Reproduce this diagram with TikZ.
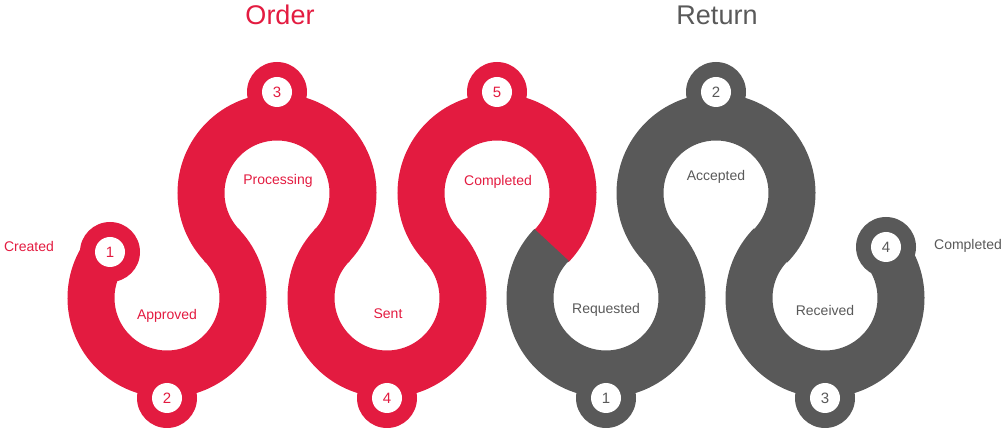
\documentclass[tikz,border=0pt]{standalone}
\usepackage{fontspec}
\setmainfont{Liberation Sans}
\usepackage{xcolor}
\definecolor{ordred}{HTML}{E31B40}
\definecolor{retgray}{HTML}{595959}
\begin{document}
\begin{tikzpicture}[x=1pt,y=1pt,
    band/.style={line width=47pt},
    bump/.style={fill=#1},
    num/.style={circle,fill=white,minimum size=30pt,inner sep=0pt,text=#1,font=\fontsize{15}{15}\selectfont},
    lbl/.style={text=#1,font=\fontsize{14}{16}\selectfont},
    title/.style={text=#1,font=\fontsize{27}{30}\selectfont}]
    \useasboundingbox (0,0) rectangle (1006,428);
    % band
    \draw[band,ordred] (167,130) ++(141:76) arc[start angle=141,end angle=404.7,radius=76];
    \draw[band,ordred] (277,235) ++(225:76) arc[start angle=225,end angle=-44.7,radius=76];
    \draw[band,ordred] (387,130) ++(135.3:76) arc[start angle=135.3,end angle=404.7,radius=76];
    \draw[band,ordred] (497,235) ++(225:76) arc[start angle=225,end angle=-44.3,radius=76];
    \draw[band,retgray] (606,130) ++(135.7:76) arc[start angle=135.7,end angle=404.7,radius=76];
    \draw[band,retgray] (716,235) ++(225:76) arc[start angle=225,end angle=-44.7,radius=76];
    \draw[band,retgray] (825,130) ++(135.3:76) arc[start angle=135.3,end angle=400,radius=76];
    % bumps
    \foreach \x/\y in {110/176,167/30,277/336,387/30,497/336}
        \fill[bump=ordred] (\x,\y) circle (30);
    \foreach \x/\y in {606/30,716/336,825/30,886/181}
        \fill[bump=retgray] (\x,\y) circle (30);
    % numbers
    \node[num=ordred] (o1) at (110,176) {1};
    \node[num=ordred] (o2) at (167,30) {2};
    \node[num=ordred] (o3) at (277,336) {3};
    \node[num=ordred] (o4) at (387,30) {4};
    \node[num=ordred] (o5) at (497,336) {5};
    \node[num=retgray] (r1) at (606,30) {1};
    \node[num=retgray] (r2) at (716,336) {2};
    \node[num=retgray] (r3) at (825,30) {3};
    \node[num=retgray] (r4) at (886,181) {4};
    % labels
    \node[lbl=ordred] (created) at (29,182) {Created};
    \node[lbl=ordred] (approved) at (167,112) {Approved};
    \node[lbl=ordred] (processing) at (278,247) {Processing};
    \node[lbl=ordred] (sent) at (388,114) {Sent};
    \node[lbl=ordred] (completed) at (498,246) {Completed};
    \node[lbl=retgray] (requested) at (606,118) {Requested};
    \node[lbl=retgray] (accepted) at (716,251) {Accepted};
    \node[lbl=retgray] (received) at (825,118) {Received};
    \node[lbl=retgray] (rcompleted) at (968,182) {Completed};
    \node[title=ordred] (order) at (280,413) {Order};
    \node[title=retgray] (return) at (717,413) {Return};
\end{tikzpicture}
\end{document}
